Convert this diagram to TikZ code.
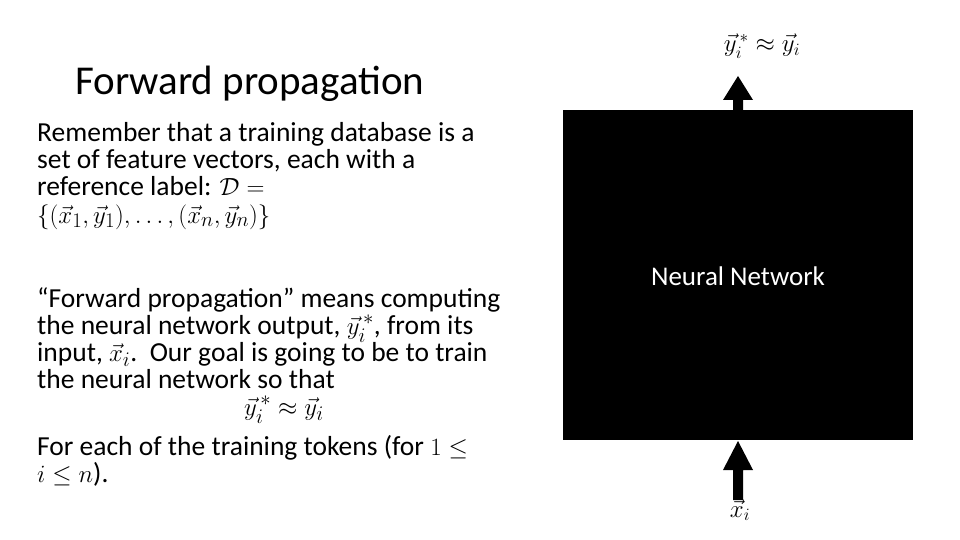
\documentclass[tikz,border=0pt]{standalone}
\usepackage{amsmath}
\usepackage{fontspec}
\setmainfont{Carlito}
\begin{document}
\begin{tikzpicture}[x=1pt,y=-1pt,
  body/.style={anchor=base west,inner sep=0pt,font=\fontsize{27.5}{27}\selectfont},
  arr/.style={fill=black,draw=none}]
\useasboundingbox (0,0) rectangle (960,540);
\node[anchor=base west,inner sep=0pt,font=\fontsize{41}{44}\selectfont] (title) at (75,95) {Forward propagation};
\node[body] (l1) at (37,142) {Remember that a training database is a};
\node[body] (l2) at (37,169) {set of feature vectors, each with a};
\node[body] (l3) at (37,196) {reference label: $\mathcal{D}=$};
\node[body] (l4) at (37,223) {$\{(\vec{x}_1,\vec{y}_1),\ldots,(\vec{x}_n,\vec{y}_n)\}$};
\node[body] (l5) at (37,307) {“Forward propagation” means computing};
\node[body] (l6) at (37,334) {the neural network output, $\vec{y}_i^{\,*}$, from its};
\node[body] (l7) at (37,361) {input, $\vec{x}_i$.\ \ Our goal is going to be to train};
\node[body] (l8) at (37,388) {the neural network so that};
\node[body,anchor=base] (l9) at (284,415) {$\vec{y}_i^{\,*}\approx\vec{y}_i$};
\node[body] (l10) at (37,455) {For each of the training tokens (for $1\leq$};
\node[body] (l11) at (37,482) {$i\leq n$).};
\node[fill=black,minimum width=350,minimum height=330,inner sep=0pt,anchor=north west] (nn) at (563,110) {};
\node[text=white,font=\fontsize{27}{30}\selectfont] (nnl) at (738,276) {Neural Network};
\fill[arr] (733,110) -- (733,100) -- (723,100) -- (738,76) -- (753,100) -- (743,100) -- (743,110) -- cycle;
\fill[arr] (733,500) -- (733,470) -- (723,470) -- (738,441) -- (753,470) -- (743,470) -- (743,500) -- cycle;
\node[font=\fontsize{27}{30}\selectfont] (out) at (762,46) {$\vec{y}_i^{\,*}\approx\vec{y}_i$};
\node[font=\fontsize{27}{30}\selectfont] (in) at (740,510) {$\vec{x}_i$};
\end{tikzpicture}
\end{document}
